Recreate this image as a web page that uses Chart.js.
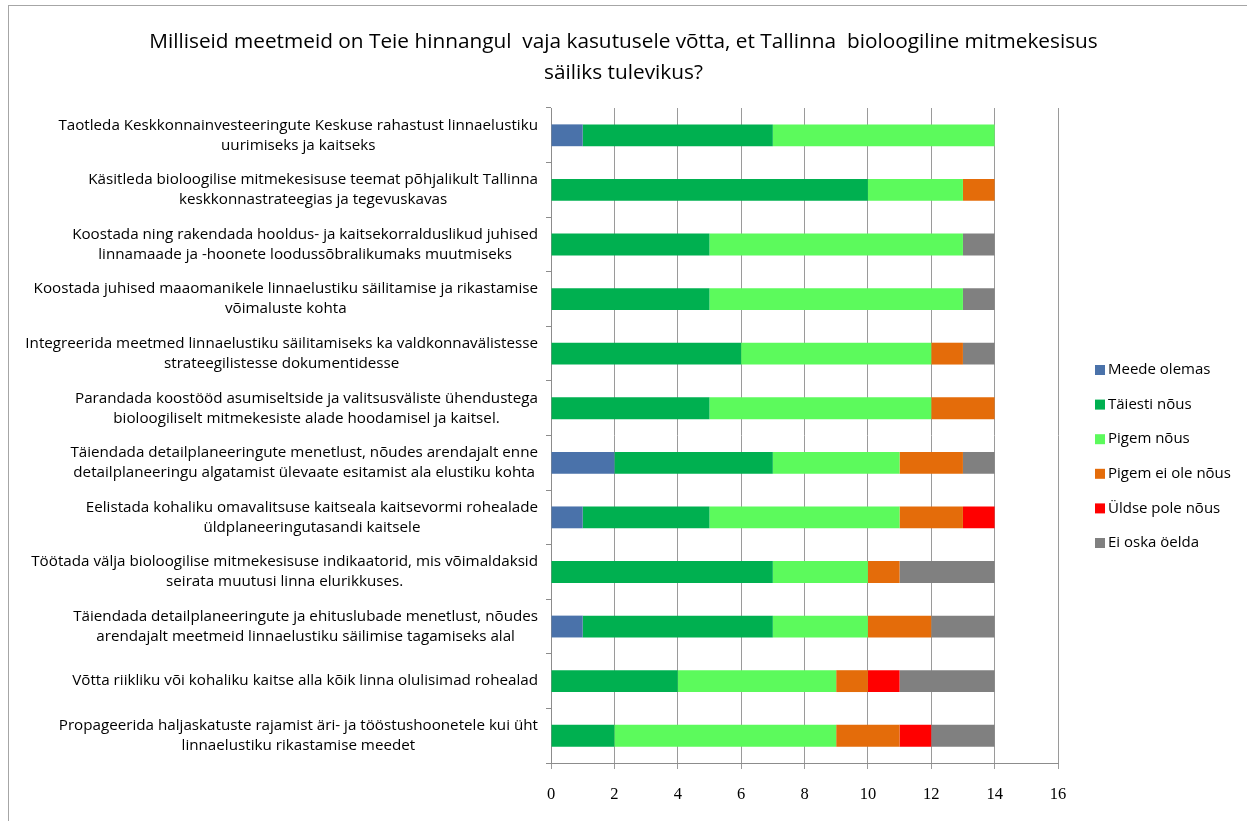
<!DOCTYPE html>
<html>
<head>
<meta charset="utf-8">
<script src="https://cdn.jsdelivr.net/npm/chart.js@4.4.1/dist/chart.umd.min.js"></script>
<style>
    html, body { margin: 0; padding: 0; background: #fff; }
    #wrap { position: relative; width: 1247px; height: 821px; }
</style>
</head>
<body>
<div id="wrap"><canvas id="barChart" width="1247" height="821"></canvas></div>
<script>
const categories = [
    ['Taotleda Keskkonnainvesteeringute Keskuse rahastust linnaelustiku', 'uurimiseks ja kaitseks'],
    ['Käsitleda bioloogilise mitmekesisuse teemat põhjalikult Tallinna', 'keskkonnastrateegias ja tegevuskavas'],
    ['Koostada ning rakendada hooldus- ja kaitsekorralduslikud juhised', 'linnamaade ja -hoonete loodussõbralikumaks muutmiseks'],
    ['Koostada juhised maaomanikele linnaelustiku säilitamise ja rikastamise', 'võimaluste kohta'],
    ['Integreerida meetmed linnaelustiku säilitamiseks ka valdkonnavälistesse', 'strateegilistesse dokumentidesse'],
    ['Parandada koostööd asumiseltside ja valitsusväliste ühendustega', 'bioloogiliselt mitmekesiste alade hoodamisel ja kaitsel.'],
    ['Täiendada detailplaneeringute menetlust, nõudes arendajalt enne', 'detailplaneeringu algatamist ülevaate esitamist ala elustiku kohta'],
    ['Eelistada kohaliku omavalitsuse kaitseala kaitsevormi rohealade', 'üldplaneeringutasandi kaitsele'],
    ['Töötada välja bioloogilise mitmekesisuse indikaatorid, mis võimaldaksid', 'seirata muutusi linna elurikkuses.'],
    ['Täiendada detailplaneeringute ja ehituslubade menetlust, nõudes', 'arendajalt meetmeid linnaelustiku säilimise tagamiseks alal'],
    ['Võtta riikliku või kohaliku kaitse alla kõik linna olulisimad rohealad'],
    ['Propageerida haljaskatuste rajamist äri- ja tööstushoonetele kui üht', 'linnaelustiku rikastamise meedet']
];

const seriesNames = ['Meede olemas', 'Täiesti nõus', 'Pigem nõus', 'Pigem ei ole nõus', 'Üldse pole nõus', 'Ei oska öelda'];
const seriesColors = ['#4A72AA', '#00B050', '#5CFA5C', '#E46C0A', '#FF0000', '#808080'];

const meedeOlemas    = [1, 0, 0, 0, 0, 0, 2, 1, 0, 1, 0, 0];
const taiestiNous    = [6, 10, 5, 5, 6, 5, 5, 4, 7, 6, 4, 2];
const pigemNous      = [7, 3, 8, 8, 6, 7, 4, 6, 3, 3, 5, 7];
const pigemEiOleNous = [0, 1, 0, 0, 1, 2, 2, 2, 1, 2, 1, 2];
const uldsePoleNous  = [0, 0, 0, 0, 0, 0, 0, 1, 0, 0, 1, 1];
const eiOskaOelda    = [0, 0, 1, 1, 1, 0, 1, 0, 3, 2, 3, 2];

const xTicks = [0, 2, 4, 6, 8, 10, 12, 14, 16];

const titleLines = [
    'Milliseid meetmeid on Teie hinnangul  vaja kasutusele võtta, et Tallinna  bioloogiline mitmekesisus',
    'säiliks tulevikus?'
];

const textFont = '"Open Sans", sans-serif';
const numFont = '"Liberation Serif", "DejaVu Serif", serif';

document.addEventListener('DOMContentLoaded', function() {
    const values = [meedeOlemas, taiestiNous, pigemNous, pigemEiOleNous, uldsePoleNous, eiOskaOelda];

    const datasets = seriesNames.map((name, i) => ({
        label: name,
        data: values[i],
        backgroundColor: seriesColors[i],
        borderWidth: 0,
        categoryPercentage: 1,
        barPercentage: 0.4
    }));

    // white page, thin frame and the two-line heading centred on the page
    const framePlugin = {
        id: 'frame',
        beforeDraw(chart) {
            const ctx = chart.ctx;
            ctx.save();
            ctx.fillStyle = '#fff';
            ctx.fillRect(0, 0, chart.width, chart.height);
            ctx.strokeStyle = '#a6a6a6';
            ctx.lineWidth = 1;
            ctx.strokeRect(8.5, 5.5, 1400, 1000);

            ctx.fillStyle = '#000';
            ctx.font = '20.8px ' + textFont;
            ctx.textAlign = 'center';
            ctx.textBaseline = 'middle';
            titleLines.forEach((t, k) => ctx.fillText(t, chart.width / 2, 42 + k * 31));
            ctx.restore();
        }
    };

    // category labels: block right aligned to axis, lines centred in block
    const catLabelPlugin = {
        id: 'catLabels',
        afterDraw(chart) {
            const ctx = chart.ctx;
            const yScale = chart.scales.y;
            const right = chart.chartArea.left - 13;
            const lineH = 20;
            ctx.save();
            ctx.font = '15.2px ' + textFont;
            ctx.fillStyle = '#000';
            ctx.textAlign = 'center';
            ctx.textBaseline = 'middle';
            chart.data.labels.forEach((lines, i) => {
                const yc = yScale.getPixelForValue(i);
                const w = Math.max(...lines.map(l => ctx.measureText(l).width));
                const cx = right - w / 2;
                const y0 = yc - (lines.length - 1) * lineH / 2;
                lines.forEach((l, k) => ctx.fillText(l, cx, y0 + k * lineH));
            });
            ctx.restore();
        }
    };

    // legend on the right
    const legendPlugin = {
        id: 'sideLegend',
        afterDraw(chart) {
            const ctx = chart.ctx;
            const x = 1095;
            const yStart = 370;
            const step = 34.6;
            ctx.save();
            ctx.font = '15px ' + textFont;
            ctx.textBaseline = 'middle';
            ctx.textAlign = 'left';
            chart.data.datasets.forEach((ds, i) => {
                const y = yStart + i * step;
                ctx.fillStyle = ds.backgroundColor;
                ctx.fillRect(x, y - 5, 10, 10);
                ctx.fillStyle = '#000';
                ctx.fillText(ds.label, x + 13, y);
            });
            ctx.restore();
        }
    };

    const canvas = document.getElementById('barChart');
    new Chart(canvas.getContext('2d'), {
        type: 'bar',
        data: {
            labels: categories,
            datasets: datasets
        },
        options: {
            indexAxis: 'y',
            responsive: false,
            animation: false,
            devicePixelRatio: 1,
            layout: {
                padding: { left: 0, right: 189, top: 108, bottom: 0 }
            },
            scales: {
                x: {
                    stacked: true,
                    min: 0,
                    max: 16,
                    afterBuildTicks(scale) {
                        scale.ticks = xTicks.map(v => ({ value: v }));
                    },
                    afterFit(scale) {
                        scale.height = 58;
                    },
                    grid: {
                        color: '#9a9a9a',
                        lineWidth: 1,
                        drawTicks: true,
                        tickLength: 6
                    },
                    border: { display: true, color: '#8c8c8c' },
                    ticks: {
                        color: '#000',
                        padding: 16,
                        font: { family: numFont, size: 16.5 }
                    }
                },
                y: {
                    stacked: true,
                    afterFit(scale) {
                        scale.width = 551;
                    },
                    grid: {
                        drawOnChartArea: false,
                        drawTicks: true,
                        tickLength: 5,
                        color: '#8c8c8c'
                    },
                    border: { display: true, color: '#8c8c8c' },
                    ticks: { display: false }
                }
            },
            plugins: {
                legend: { display: false },
                tooltip: { enabled: false },
                title: { display: false }
            }
        },
        plugins: [framePlugin, catLabelPlugin, legendPlugin]
    });
});
</script>
</body>
</html>
